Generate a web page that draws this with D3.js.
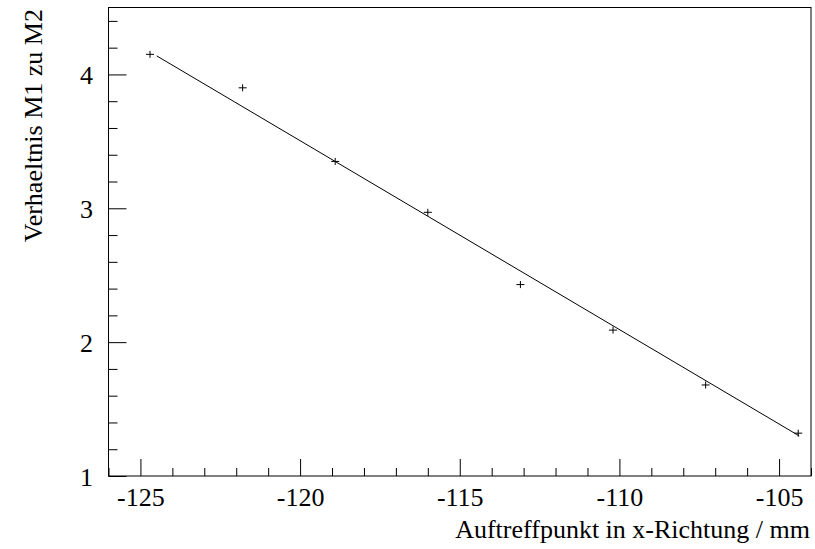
<!DOCTYPE html>
<html>
<head>
<meta charset="utf-8">
<script src="https://cdn.jsdelivr.net/npm/d3@7"></script>
<style>
  html, body { margin: 0; padding: 0; background: #fff; }
  svg { display: block; }
</style>
</head>
<body>
<svg id="chart" width="815" height="549"></svg>
<script>
// Measured impact positions (mm) and the M1/M2 signal ratio
const positions = [-124.7, -121.8, -118.9, -116.0, -113.1, -110.2, -107.3, -104.4];
const ratios    = [4.15, 3.90, 3.35, 2.97, 2.43, 2.09, 1.68, 1.32];

// Linear fit: ratio = intercept + slope * x, over the fitted range
const fitParams = [-13.427, -0.1411];   // [intercept, slope]
const fitRange  = [-124.49, -104.37];

const xTicks = [-125, -120, -115, -110, -105];
const yTicks = [1, 2, 3, 4];
const xLabel = "Auftreffpunkt in x-Richtung / mm";
const yLabel = "Verhaeltnis M1 zu M2";

const FONT = "Liberation Serif";
const FS_TICK = 26;
const FS_TITLE = 26;

const svg = d3.select("#chart");
const frame = { left: 108.5, right: 811, top: 7.5, bottom: 476 };

const x = d3.scaleLinear().domain([-126, -104]).range([frame.left, frame.right]);
const y = d3.scaleLinear().domain([1, 4.5]).range([frame.bottom, frame.top]);

// frame
svg.append("rect")
  .attr("x", frame.left).attr("y", frame.top)
  .attr("width", frame.right - frame.left).attr("height", frame.bottom - frame.top)
  .attr("fill", "none").attr("stroke", "#000").attr("stroke-width", 1);

// x axis: major ticks with labels, minor ticks every unit (ticks point inward)
const xMinor = d3.range(-126, -103.999, 1).filter(v => !xTicks.includes(v));
const gx = svg.append("g").attr("transform", `translate(0,${frame.bottom})`)
  .call(d3.axisBottom(x).tickValues(xTicks).tickSize(-17)
    .tickFormat(d => String(d)));
gx.select(".domain").remove();
gx.selectAll("text")
  .attr("dy", null).attr("y", 29.5)
  .style("font-family", FONT).style("font-size", FS_TICK + "px").style("fill", "#000");
const gxMinor = svg.append("g").attr("transform", `translate(0,${frame.bottom})`)
  .call(d3.axisBottom(x).tickValues(xMinor).tickSize(-8).tickFormat(""));
gxMinor.select(".domain").remove();

// y axis: major ticks with labels, minor ticks every 0.2
const yMinor = d3.range(1.2, 4.5, 0.2).map(v => +v.toFixed(1)).filter(v => !yTicks.includes(v));
const gy = svg.append("g").attr("transform", `translate(${frame.left},0)`)
  .call(d3.axisLeft(y).tickValues(yTicks).tickSize(-18).tickFormat(d3.format("d")));
gy.select(".domain").remove();
gy.selectAll("text")
  .attr("x", -15.5).attr("dy", "0.35em")
  .style("font-family", FONT).style("font-size", FS_TICK + "px").style("fill", "#000");
const gyMinor = svg.append("g").attr("transform", `translate(${frame.left},0)`)
  .call(d3.axisLeft(y).tickValues(yMinor).tickSize(-9).tickFormat(""));
gyMinor.select(".domain").remove();

svg.selectAll(".tick line").attr("stroke", "#000").attr("stroke-width", 1);

// axis titles
svg.append("text")
  .attr("x", frame.right - 1).attr("y", 538)
  .attr("text-anchor", "end")
  .style("font-family", FONT).style("font-size", FS_TITLE + "px").style("fill", "#000")
  .text(xLabel);
svg.append("text")
  .attr("transform", `translate(42,${frame.top + 1.5}) rotate(-90)`)
  .attr("text-anchor", "end")
  .style("font-family", FONT).style("font-size", FS_TITLE + "px").style("fill", "#000")
  .text(yLabel);

// fit line
const fitLine = d3.line().x(d => x(d)).y(d => y(fitParams[0] + fitParams[1] * d));
svg.append("path")
  .datum(fitRange)
  .attr("d", fitLine)
  .attr("fill", "none").attr("stroke", "#000").attr("stroke-width", 1);

// data points drawn as "+" markers
const pts = positions.map((p, i) => ({ x: p, y: ratios[i] }));
const mk = svg.append("g").selectAll("g").data(pts).join("g")
  .attr("transform", d => `translate(${x(d.x)},${y(d.y)})`);
mk.append("line").attr("x1", -4).attr("x2", 4).attr("y1", 0).attr("y2", 0)
  .attr("stroke", "#000").attr("stroke-width", 1);
mk.append("line").attr("x1", 0).attr("x2", 0).attr("y1", -3.5).attr("y2", 3.5)
  .attr("stroke", "#000").attr("stroke-width", 1);
</script>
</body>
</html>
